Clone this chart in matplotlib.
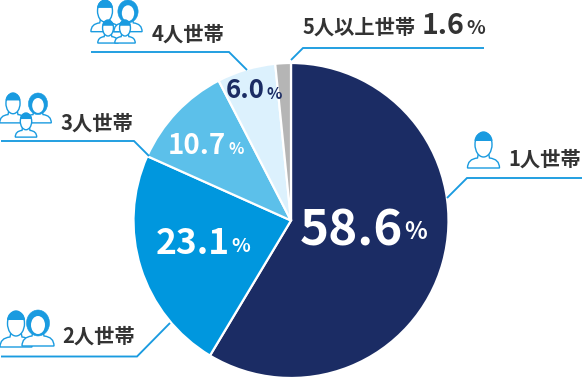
import matplotlib
matplotlib.use("Agg")
import matplotlib.pyplot as plt
from matplotlib.patches import Ellipse, Wedge, PathPatch
from matplotlib.path import Path

plt.rcParams['font.family'] = ['Noto Sans CJK JP', 'DejaVu Sans']

categories = ['1人世帯', '2人世帯', '3人世帯', '4人世帯', '5人以上世帯']
values = [58.6, 23.1, 10.7, 6.0, 1.6]
value_labels = ['58.6', '23.1', '10.7', '6.0', '1.6']
colors = ['#1b2c64', '#0097de', '#5cc0ea', '#dcf1fd', '#b5b5b5']

W, H = 582, 380
CX, CY, R = 291, 220.5, 157.5
BLUE = '#1a9be0'
DARK = '#333333'

fig = plt.figure(figsize=(W / 100, H / 100), dpi=100)
pie_ax = fig.add_axes([(CX - R) / W, 1 - (CY + R) / H, 2 * R / W, 2 * R / H])
pie_ax.pie(values, colors=colors, startangle=90, counterclock=False, radius=1,
           wedgeprops=dict(edgecolor='white', linewidth=1.6))
pie_ax.set_xlim(-1, 1)
pie_ax.set_ylim(-1, 1)
pie_ax.axis('off')

ax = fig.add_axes([0, 0, 1, 1], facecolor='none')
ax.set_xlim(0, W)
ax.set_ylim(H, 0)
ax.axis('off')

leaders = [
    ([582, 467, 447], [178, 178, 198]),
    ([1, 137, 170], [356.5, 356.5, 323]),
    ([1, 134, 149], [141, 141, 156]),
    ([91, 229, 247], [52, 52, 70]),
    ([484, 303, 291], [48, 48, 60]),
]
for xs, ys in leaders:
    ax.plot(xs, ys, color=BLUE, lw=1.35, solid_joinstyle='miter', solid_capstyle='butt')

_z = [5]


def nz():
    _z[0] += 1
    return _z[0]


def person(cx, top, s=1.0, female=False):
    """Outline person: cx = centre, top = top of head, s = scale (1 = 36 px tall)."""
    hw = 16 * s
    z = nz()
    body = Path([(cx - hw, top + 36 * s), (cx - hw, top + 27 * s),
                 (cx - 6 * s, top + 26 * s), (cx - 5 * s, top + 21 * s),
                 (cx + 5 * s, top + 21 * s), (cx + 6 * s, top + 26 * s),
                 (cx + hw, top + 27 * s), (cx + hw, top + 36 * s),
                 (cx - hw, top + 36 * s)],
                [Path.MOVETO, Path.CURVE3, Path.CURVE3, Path.LINETO, Path.LINETO,
                 Path.LINETO, Path.CURVE3, Path.CURVE3, Path.CLOSEPOLY])
    ax.add_patch(PathPatch(body, fc='white', ec=BLUE, lw=1.0, zorder=z))
    if female:
        ax.add_patch(Ellipse((cx, top + 13 * s), 23 * s, 26 * s, fc=BLUE, ec=BLUE, lw=0.4, zorder=nz()))
        ax.add_patch(Ellipse((cx, top + 15 * s), 14 * s, 18 * s, fc='white', ec='none', zorder=nz()))
    else:
        ax.add_patch(Ellipse((cx, top + 12.5 * s), 17 * s, 25 * s, fc='white', ec=BLUE, lw=1.0, zorder=nz()))
        ax.add_patch(Wedge((cx, top + 9 * s), 9 * s, 180, 360, fc=BLUE, ec='none', zorder=nz()))


person(483.5, 132, 1.0)
person(16, 311, 1.0)
person(38, 310, 1.0, female=True)
person(13, 93, 0.83)
person(38, 93, 0.83, female=True)
person(26, 113, 0.67)
person(105, 0, 0.88)
person(128, 0, 0.88, female=True)
person(108, 20, 0.64)
person(125, 20, 0.64)

LABEL = 14.6
ax.text(508, 159, categories[0], fontsize=LABEL, fontweight='bold', color=DARK, va='center', ha='left')
ax.text(62, 336, categories[1], fontsize=LABEL, fontweight='bold', color=DARK, va='center', ha='left')
ax.text(60, 123, categories[2], fontsize=LABEL, fontweight='bold', color=DARK, va='center', ha='left')
ax.text(152, 34, categories[3], fontsize=LABEL, fontweight='bold', color=DARK, va='center', ha='left')
ax.text(303, 27, categories[4], fontsize=LABEL, fontweight='bold', color=DARK, va='center', ha='left')

entries = [
    (value_labels[0], 403, 231, 35.5, 'white', 415.5, 232, 17),
    (value_labels[1], 229.5, 243, 25.5, 'white', 241, 247, 14),
    (value_labels[2], 226, 146, 20, 'white', 236, 149, 11.5),
    (value_labels[3], 265, 91, 18.5, colors[0], 274, 94, 11.5),
    (value_labels[4], 465, 26, 20.5, DARK, 476, 29, 14),
]
for txt, xr, y, fs, col, xp, yp, fsp in entries:
    ax.text(xr, y, txt, fontsize=fs, fontweight='bold', color=col, ha='right', va='center')
    ax.text(xp, yp, '%', fontsize=fsp, fontweight='bold', color=col, ha='center', va='center')

fig.savefig('out.png', dpi=100)
